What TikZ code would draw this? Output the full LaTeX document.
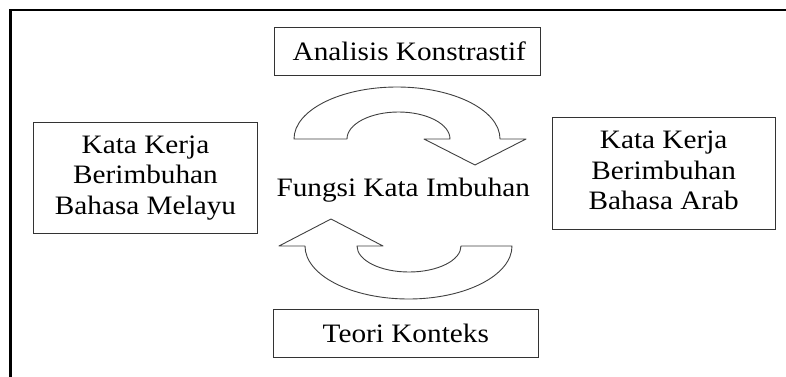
\documentclass[tikz,border=0pt]{standalone}
\usepackage{fontspec}
\setmainfont{Liberation Serif}[FakeStretch=1.1]
\begin{document}
\begin{tikzpicture}[x=1pt,y=1pt,
  txt/.style={font=\fontsize{26.6}{30.4}\selectfont, text=black, align=center, inner sep=0pt},
  box/.style={draw=black!80, line width=1pt, rectangle, inner sep=0pt, txt},
  blockarrow/.style={draw=black!75, line width=0.9pt, fill=white, line join=round},
  frame/.style={draw=black, line width=2.6pt, line join=miter}]
\useasboundingbox (0,0) rectangle (786,376);
\clip (0,0) rectangle (786,376);
% outer frame (only top and left edges visible)
\draw[frame] (10.3,-5) -- (10.3,366) -- (795,366);
% boxes
\node[box, minimum width=265.3, minimum height=47.7] (analisis) at (407.35,324.85) {\hspace*{4pt}Analisis Konstrastif};
\node[box, minimum width=224.4, minimum height=111] (melayu) at (145.5,198.2) {\raisebox{-2.5pt}{\begin{tabular}{@{}c@{}}Kata Kerja\\Berimbuhan\\Bahasa Melayu\end{tabular}}};
\node[box, minimum width=222.7, minimum height=112] (arab) at (663.65,202.7) {\raisebox{-2.5pt}{\begin{tabular}{@{}c@{}}Kata Kerja\\Berimbuhan\\Bahasa Arab\end{tabular}}};
\node[box, minimum width=265, minimum height=48.7] (teori) at (405.8,42.65) {Teori Konteks};
\node[txt, anchor=base] (fungsi) at (403.3,180) {Fungsi Kata Imbuhan};
% circular block arrows
\draw[blockarrow] (294,237) arc[start angle=180,end angle=0,x radius=103,y radius=52]
  -- (526,237) -- (475,211) -- (424,237) -- (450,237)
  arc[start angle=0,end angle=180,x radius=51.5,y radius=27] -- cycle;
\draw[blockarrow] (512,130) arc[start angle=0,end angle=-180,x radius=103.5,y radius=53]
  -- (279,130) -- (331,157) -- (383,130) -- (357,130)
  arc[start angle=180,end angle=360,x radius=52,y radius=26] -- cycle;
\end{tikzpicture}
\end{document}
